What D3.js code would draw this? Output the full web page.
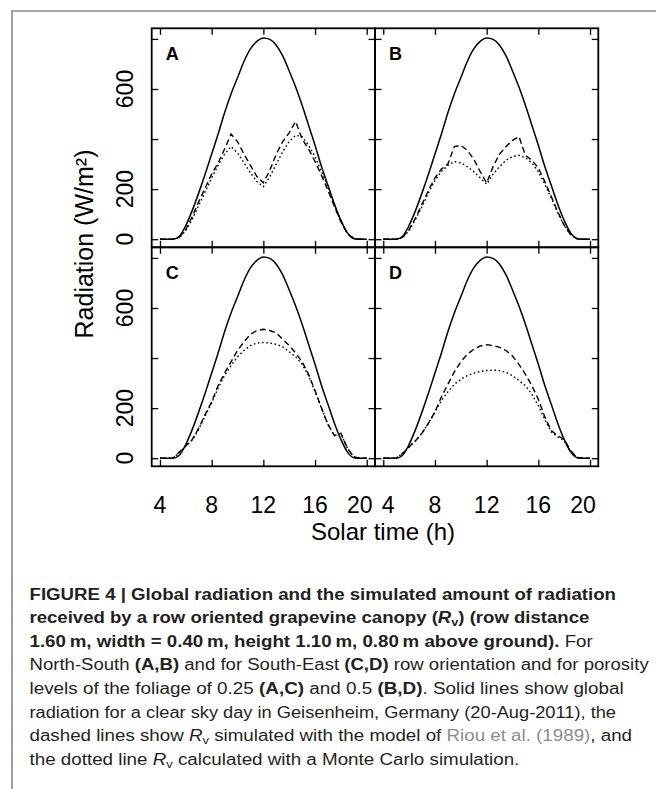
<!DOCTYPE html>
<html>
<head>
<meta charset="utf-8">
<script src="https://cdn.jsdelivr.net/npm/d3@7"></script>
<style>
  body { margin: 0; background: #fff; }
  svg { display: block; }
  text { font-family: "Liberation Sans", Arial, Helvetica, sans-serif; }
  .cap { font-family: "Liberation Sans Narrow", "Arial Narrow", "Liberation Sans", sans-serif; font-size: 16px; fill: #231f20; }
</style>
</head>
<body>
<div id="container"></div>
<script>
/* DATA (solar time in h, radiation in W/m2) */
const hours = d3.range(4, 20.01, 0.5);

const globalRad = [0, 0, 0, 12, 55, 115, 185, 260, 340, 420, 505, 580, 645, 710, 760, 790, 804,
  798, 775, 732, 672, 608, 535, 455, 375, 290, 215, 140, 75, 25, 2, 0, 0];

const dashedA = [0, 0, 0, 8, 40, 90, 150, 205, 260, 305, 360, 420, 390, 340, 295, 250, 225,
  275, 340, 390, 425, 470, 400, 360, 310, 255, 195, 130, 70, 22, 3, 0, 0];
const dottedA = [0, 0, 0, 6, 35, 80, 135, 190, 245, 295, 340, 370, 345, 305, 265, 230, 210,
  250, 300, 350, 390, 415, 410, 375, 330, 270, 210, 140, 72, 24, 3, 0, 0];

const dashedB = [0, 0, 0, 8, 38, 85, 140, 195, 245, 280, 300, 370, 375, 355, 320, 270, 225,
  290, 340, 370, 395, 410, 335, 315, 285, 230, 170, 110, 55, 18, 2, 0, 0];
const dottedB = [0, 0, 0, 6, 35, 80, 130, 185, 235, 270, 295, 310, 305, 290, 270, 245, 220,
  260, 290, 315, 330, 335, 325, 305, 270, 220, 165, 105, 55, 18, 2, 0, 0];

const dashedC = [0, 0, 0, 25, 50, 75, 120, 175, 225, 290, 340, 385, 430, 465, 495, 510, 515,
  510, 500, 475, 450, 420, 385, 335, 270, 200, 135, 90, 100, 40, 5, 0, 0];
const dottedC = [0, 0, 0, 22, 48, 72, 115, 170, 220, 280, 330, 370, 405, 430, 450, 460, 462,
  460, 455, 445, 425, 405, 375, 330, 265, 200, 135, 90, 98, 40, 5, 0, 0];

const dashedD = [0, 0, 0, 20, 45, 70, 100, 140, 185, 245, 295, 345, 385, 415, 435, 448, 453,
  450, 443, 430, 408, 375, 335, 290, 235, 165, 110, 90, 75, 30, 3, 0, 0];
const dottedD = [0, 0, 0, 20, 45, 70, 100, 140, 185, 230, 265, 295, 315, 330, 340, 346, 350,
  352, 350, 343, 330, 310, 290, 255, 210, 155, 105, 85, 70, 28, 3, 0, 0];

const panelNames = ["A", "B", "C", "D"];
const dashedSeries = [dashedA, dashedB, dashedC, dashedD];
const dottedSeries = [dottedA, dottedB, dottedC, dottedD];

const xTicks = [4, 8, 12, 16, 20];
const yTicks = [0, 200, 400, 600, 800];
const yLabels = [0, 200, 600];

/* LAYOUT */
const width = 656, height = 789;
const plotLeft = 151.7, plotTop = 28.3;
const panelW = 223.3, panelH = 219;
const tick = 6.5;

const svg = d3.select("#container").append("svg")
  .attr("width", width).attr("height", height);

// grey frame of the figure box
svg.append("path")
  .attr("d", `M12,${height}V11H${width}`)
  .attr("fill", "none").attr("stroke", "#8a8a8a").attr("stroke-width", 1.6);

const xScale = d3.scaleLinear().domain([3.36, 20.64]).range([0, panelW]);
const yScale = d3.scaleLinear().domain([-32.4, 842.4]).range([panelH, 0]);

const lineGen = d3.line()
  .x((d, i) => xScale(hours[i]))
  .y(d => yScale(d));

panelNames.forEach((name, k) => {
  const col = k % 2, row = Math.floor(k / 2);
  const g = svg.append("g")
    .attr("transform", `translate(${plotLeft + col * panelW},${plotTop + row * panelH})`);

  // inward ticks on all four sides
  g.append("g").attr("transform", `translate(0,${panelH})`)
    .call(d3.axisBottom(xScale).tickValues(xTicks).tickSize(-tick).tickSizeOuter(0).tickFormat(""));
  g.append("g")
    .call(d3.axisTop(xScale).tickValues(xTicks).tickSize(-tick).tickSizeOuter(0).tickFormat(""));
  g.append("g")
    .call(d3.axisLeft(yScale).tickValues(yTicks).tickSize(-tick).tickSizeOuter(0).tickFormat(""));
  g.append("g").attr("transform", `translate(${panelW},0)`)
    .call(d3.axisRight(yScale).tickValues(yTicks).tickSize(-tick).tickSizeOuter(0).tickFormat(""));
  g.selectAll(".domain").remove();
  g.selectAll(".tick line").attr("stroke", "#000").attr("stroke-width", 1.3);

  g.append("rect")
    .attr("width", panelW).attr("height", panelH)
    .attr("fill", "none").attr("stroke", "#000").attr("stroke-width", 1.8);

  g.append("path").datum(globalRad)
    .attr("d", d3.line().x((d, i) => xScale(hours[i])).y(d => yScale(d)).curve(d3.curveMonotoneX))
    .attr("fill", "none").attr("stroke", "#000").attr("stroke-width", 1.5);

  g.append("path").datum(dashedSeries[k])
    .attr("d", lineGen)
    .attr("fill", "none").attr("stroke", "#000").attr("stroke-width", 1.4)
    .attr("stroke-dasharray", "6,3.5");

  g.append("path").datum(dottedSeries[k])
    .attr("d", lineGen)
    .attr("fill", "none").attr("stroke", "#000").attr("stroke-width", 1.4)
    .attr("stroke-dasharray", "1.6,2.6");

  g.append("text")
    .attr("x", 14).attr("y", 32)
    .attr("font-size", 18).attr("font-weight", "bold")
    .text(name);

  if (col === 0) {
    g.selectAll(".ylab").data(yLabels).join("text")
      .attr("class", "ylab")
      .attr("transform", d => `translate(-19,${yScale(d)}) rotate(-90)`)
      .attr("text-anchor", "middle")
      .attr("font-size", 23)
      .text(d => d);
  }
  if (row === 1) {
    // edge labels sit slightly inside their ticks, as in the original
    const shift = d => d === 20 ? -7 : (d === 4 && col === 1 ? 5 : 0);
    g.selectAll(".xlab").data(xTicks).join("text")
      .attr("class", "xlab")
      .attr("x", d => xScale(d) + shift(d)).attr("y", panelH + 46.5)
      .attr("text-anchor", "middle")
      .attr("font-size", 23)
      .text(d => d);
  }
});

// axis titles
svg.append("text")
  .attr("transform", "translate(93,244) rotate(-90)")
  .attr("text-anchor", "middle").attr("font-size", 25)
  .text("Radiation (W/m²)");

svg.append("text")
  .attr("x", 383).attr("y", 540)
  .attr("text-anchor", "middle").attr("font-size", 24)
  .text("Solar time (h)");

/* CAPTION */
const capStart = 29.5, capBase = 599.5, capStep = 23.65;
const capEnds = [616, 589.3, 592.7, 648.7, 623.7, 616, 632, 519.3];
// each line: list of [text, style]; style: b = bold, i = italic R, s = subscript v, g = grey
const capLines = [
  [["FIGURE 4 | Global radiation and the simulated amount of radiation", "b"]],
  [["received by a row oriented grapevine canopy (", "b"], ["R", "bi"], ["v", "bs"], [") (row distance", "b"]],
  [["1.60\u2009m, width = 0.40\u2009m, height 1.10\u2009m, 0.80\u2009m above ground).", "b"], [" For", ""]],
  [["North-South ", ""], ["(A,B)", "b"], [" and for South-East ", ""], ["(C,D)", "b"], [" row orientation and for porosity", ""]],
  [["levels of the foliage of 0.25 ", ""], ["(A,C)", "b"], [" and 0.5 ", ""], ["(B,D)", "b"], [". Solid lines show global", ""]],
  [["radiation for a clear sky day in Geisenheim, Germany (20-Aug-2011), the", ""]],
  [["dashed lines show ", ""], ["R", "i"], ["v", "s"], [" simulated with the model of ", ""], ["Riou et al. (1989)", "g"], [", and", ""]],
  [["the dotted line ", ""], ["R", "i"], ["v", "s"], [" calculated with a Monte Carlo simulation.", ""]]
];

capLines.forEach((parts, i) => {
  const t = svg.append("text").attr("class", "cap")
    .attr("x", capStart).attr("y", capBase + i * capStep)
    .attr("textLength", capEnds[i] - capStart)
    .attr("lengthAdjust", "spacingAndGlyphs");
  let sub = false;
  parts.forEach(([txt, st]) => {
    const ts = t.append("tspan").text(txt);
    if (st.includes("b")) ts.attr("font-weight", "bold");
    if (st.includes("i")) ts.attr("font-style", "italic");
    if (st.includes("g")) ts.attr("fill", "#8c8c8c");
    if (st.includes("s")) { ts.attr("font-size", 11).attr("dy", 3); sub = true; }
    else if (sub) { ts.attr("dy", -3); sub = false; }
  });
});
</script>
</body>
</html>
